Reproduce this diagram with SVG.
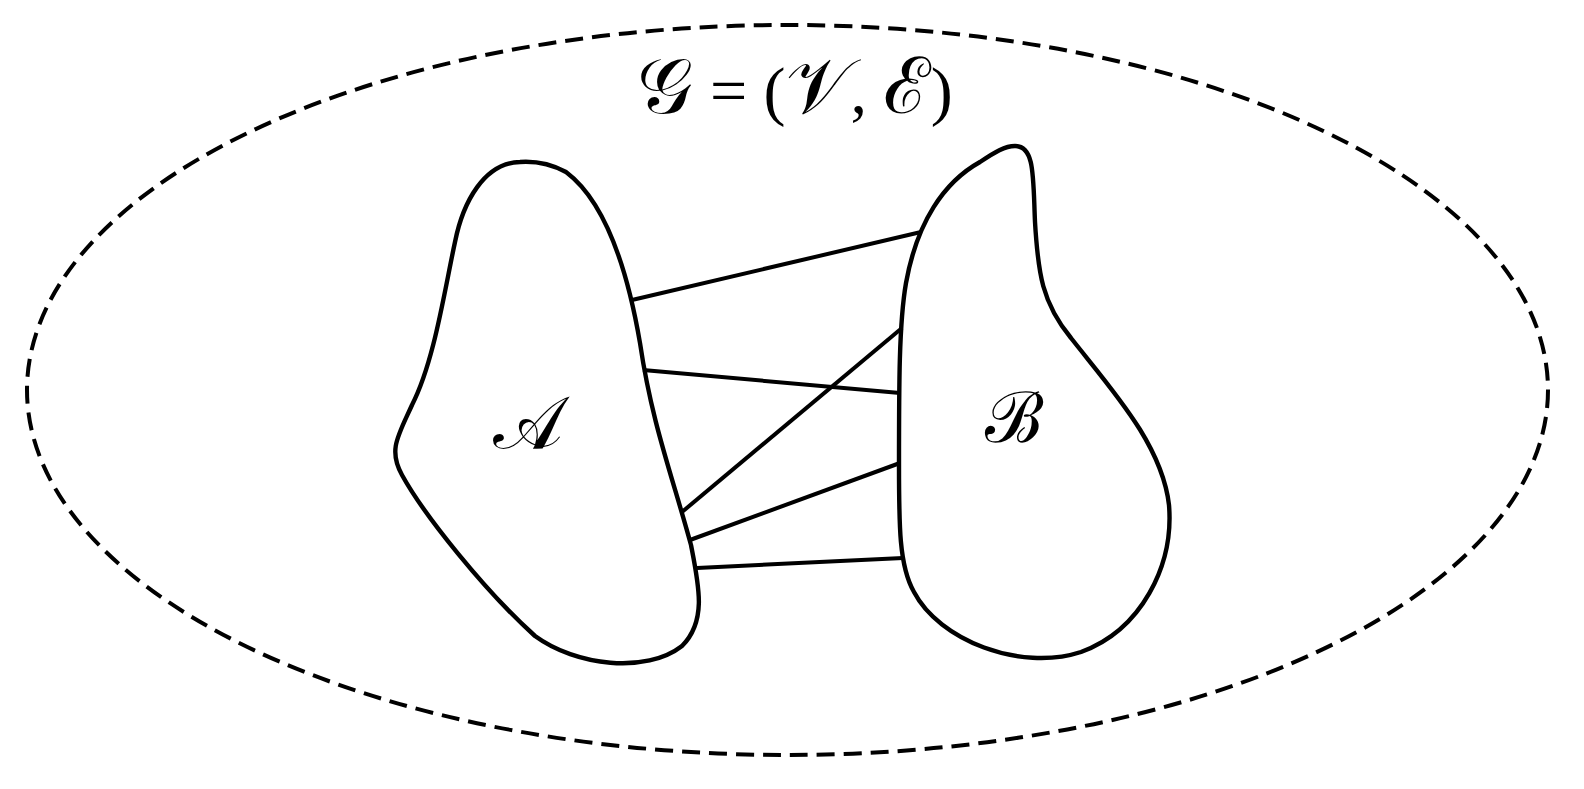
<svg xmlns="http://www.w3.org/2000/svg" width="1584" height="789" viewBox="0 0 1584 789">
<style>
.blob{fill:none;stroke:#000;stroke-width:4.4;stroke-linejoin:round}
.edge{stroke:#000;stroke-width:4;fill:none}
.outer{fill:none;stroke:#000;stroke-width:4;stroke-dasharray:18 9}
.op{font-family:"Liberation Serif","DejaVu Serif",serif;font-style:normal;fill:#000}
.scr{font-family:"DejaVu Serif","Noto Sans","Liberation Serif",serif;font-style:normal;fill:#000}
</style>
<rect width="1584" height="789" fill="#fff"/>
<g id="graph">
<ellipse class="outer" cx="787.5" cy="390" rx="760.5" ry="365"/>
<text class="op" x="795" y="113" font-size="66" text-anchor="middle"><tspan class="scr" font-size="78">𝒢</tspan> = (<tspan class="scr" font-size="78">𝒱</tspan>, <tspan class="scr" font-size="78">ℰ</tspan>)</text>
</g>
<g id="connectors">
<line class="edge" x1="632" y1="300" x2="921" y2="232"/>
<line class="edge" x1="643" y1="370" x2="900" y2="393"/>
<line class="edge" x1="682" y1="512" x2="902" y2="328"/>
<line class="edge" x1="690" y1="540" x2="900" y2="463"/>
<line class="edge" x1="697" y1="568" x2="903" y2="558"/>
</g>
<g id="nodeA">
<path class="blob" d="M520,162 C484,163 463,202 455,242 C444,293 434,362 412,405 C398,436 388,450 402,475 C424,515 485,591 535,636 C576,666 646,674 682,646 C707,621 699,586 691,545 C672,475 652,424 640,343 C628,273 606,202 566,172 C551,164 535,161 520,162 Z"/>
<text class="scr" x="528" y="448" font-size="74" text-anchor="middle">𝒜</text>
</g>
<g id="nodeB">
<path class="blob" d="M1015,146 C1035,146 1033,177 1035,222 C1038,273 1042,303 1071,338 C1111,389 1162,444 1169,505 C1174,566 1141,630 1081,652 C1020,672 939,640 914,592 C899,566 899,525 899,465 C899,384 899,323 906,283 C917,222 944,182 980,162 C995,152 1005,146 1015,146 Z"/>
<text class="scr" x="1014" y="442" font-size="70" text-anchor="middle">ℬ</text>
</g>
</svg>
